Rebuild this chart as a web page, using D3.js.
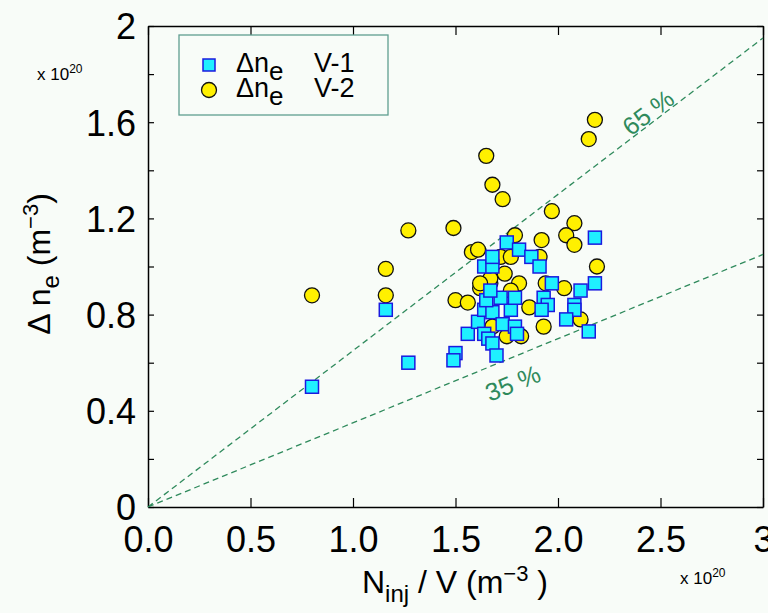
<!DOCTYPE html>
<html>
<head>
<meta charset="utf-8">
<script src="https://cdn.jsdelivr.net/npm/d3@7"></script>
<style>
  body { margin: 0; background: #f8fcf8; }
  text { font-family: "Liberation Sans", Arial, Helvetica, sans-serif; }
</style>
</head>
<body>
<script>
// V-1 points (squares): injected density / volume vs density rise, units of 1e20 m^-3
var v1x = [0.80, 1.16, 1.27, 1.50, 1.49, 1.56, 1.61, 1.64, 1.68, 1.64, 1.66, 1.68, 1.70,
           1.73, 1.79, 1.80, 1.77, 1.72, 1.79, 1.65, 1.67, 1.64, 1.68, 1.68, 1.75, 1.81,
           1.87, 1.91, 1.97, 1.93, 1.95, 1.92, 2.08, 2.08, 2.04, 2.11, 2.18, 2.18, 2.15];
var v1y = [0.50, 0.82, 0.60, 0.64, 0.61, 0.72, 0.77, 0.82, 0.81, 0.72, 0.70, 0.68, 0.63,
           0.76, 0.75, 0.72, 0.82, 0.87, 0.87, 0.86, 0.90, 1.00, 1.00, 1.04, 1.10, 1.07,
           1.04, 1.00, 0.93, 0.87, 0.84, 0.82, 0.84, 0.82, 0.78, 0.90, 0.93, 1.12, 0.73];

// V-2 points (circles)
var v2x = [0.80, 1.16, 1.16, 1.27, 1.49, 1.50, 1.56, 1.58, 1.61, 1.65, 1.68, 1.73, 1.79,
           1.92, 1.97, 2.08, 2.04, 2.08, 2.15, 2.18, 2.19, 2.11, 2.03, 1.94, 1.91, 1.72,
           1.77, 1.74, 1.81, 1.62, 1.67, 1.86, 1.93, 1.75, 1.82, 1.68, 1.67, 1.77, 1.62];
var v2y = [0.88, 0.99, 0.88, 1.15, 1.16, 0.86, 0.85, 1.06, 1.07, 1.46, 1.34, 1.28, 1.13,
           1.11, 1.23, 1.18, 1.13, 1.09, 1.53, 1.61, 1.00, 0.78, 0.91, 0.93, 1.04, 1.04,
           1.04, 0.97, 0.93, 0.91, 0.93, 0.83, 0.75, 0.71, 0.71, 0.75, 0.95, 0.90, 0.93];

// reference efficiency lines
var fractions = [0.65, 0.35];
var fracLabels = ["65 %", "35 %"];

var xTicks = [0, 0.5, 1, 1.5, 2, 2.5, 3];
var xTickLabels = ["0.0", "0.5", "1.0", "1.5", "2.0", "2.5", "3"];
var yTicks = [0, 0.2, 0.4, 0.6, 0.8, 1.0, 1.2, 1.4, 1.6, 1.8, 2.0];
var yTickLabels = ["0", "", "0.4", "", "0.8", "", "1.2", "", "1.6", "", "2"];

var width = 768,
    height = 613,
    margin = {top: 26, right: 5, bottom: 106, left: 148};

var lineColor = "#2f8a5c";

var svg = d3.select("body").append("svg")
    .attr("width", width)
    .attr("height", height);

svg.append("rect")
    .attr("width", width)
    .attr("height", height)
    .attr("fill", "#f8fcf8");

var x = d3.scaleLinear().domain([0, 3]).range([margin.left, width - margin.right]);
var y = d3.scaleLinear().domain([0, 2]).range([height - margin.bottom, margin.top]);

// axes, ticks pointing inward
svg.append("g")
    .attr("transform", "translate(0," + y(0) + ")")
    .call(d3.axisBottom(x).tickValues(xTicks).tickSizeInner(-9).tickSizeOuter(0)
      .tickPadding(12).tickFormat(function(d, i) { return xTickLabels[i]; }))
    .call(function(g) {
      g.selectAll("text").attr("font-size", 36).attr("fill", "#000").attr("dy", "0.92em");
    });

svg.append("g")
    .attr("transform", "translate(0," + y(2) + ")")
    .call(d3.axisTop(x).tickValues(xTicks).tickSizeInner(-9).tickSizeOuter(0).tickFormat(""));

svg.append("g")
    .attr("transform", "translate(" + x(0) + ",0)")
    .call(d3.axisLeft(y).tickValues(yTicks).tickSizeInner(-6).tickSizeOuter(0)
      .tickPadding(12).tickFormat(function(d, i) { return yTickLabels[i]; }))
    .call(function(g) {
      g.selectAll("text").attr("font-size", 36).attr("fill", "#000").attr("dy", "0.36em");
    });

svg.append("g")
    .attr("transform", "translate(" + x(3) + ",0)")
    .call(d3.axisRight(y).tickValues(yTicks).tickSizeInner(-6).tickSizeOuter(0).tickFormat(""));

svg.selectAll(".domain").attr("stroke", "#000").attr("stroke-width", 1.5);
svg.selectAll(".tick line").attr("stroke", "#000").attr("stroke-width", 1.2);

// dashed reference lines
svg.selectAll(".ref")
    .data(fractions)
    .enter().append("line")
      .attr("class", "ref")
      .attr("x1", x(0)).attr("y1", y(0))
      .attr("x2", x(3)).attr("y2", function(d) { return y(3 * d); })
      .attr("stroke", lineColor)
      .attr("stroke-width", 1.3)
      .attr("stroke-dasharray", "6,4");

// labels on the lines
var labelAt = [{xv: 2.44, off: -13}, {xv: 1.78, off: 26}];
svg.selectAll(".reflabel")
    .data(fractions)
    .enter().append("text")
      .attr("class", "reflabel")
      .attr("font-size", 25)
      .attr("fill", lineColor)
      .attr("text-anchor", "middle")
      .attr("transform", function(d, i) {
        var px = x(labelAt[i].xv), py = y(labelAt[i].xv * d);
        var ang = Math.atan2(y(3 * d) - y(0), x(3) - x(0)) * 180 / Math.PI;
        return "translate(" + px + "," + (py + labelAt[i].off) + ") rotate(" + ang + ")";
      })
      .attr("dy", "0.35em")
      .text(function(d, i) { return fracLabels[i]; });

// V-2 circles drawn first, squares on top
var v2 = v2x.map(function(d, i) { return {x: d, y: v2y[i]}; });
var v1 = v1x.map(function(d, i) { return {x: d, y: v1y[i]}; });

svg.selectAll(".v2")
    .data(v2)
    .enter().append("circle")
      .attr("class", "v2")
      .attr("cx", function(d) { return x(d.x); })
      .attr("cy", function(d) { return y(d.y); })
      .attr("r", 7.5)
      .attr("fill", "#fff000")
      .attr("stroke", "#111")
      .attr("stroke-width", 1.3);

var sq = 13;
svg.selectAll(".v1")
    .data(v1)
    .enter().append("rect")
      .attr("class", "v1")
      .attr("x", function(d) { return x(d.x) - sq / 2; })
      .attr("y", function(d) { return y(d.y) - sq / 2; })
      .attr("width", sq)
      .attr("height", sq)
      .attr("fill", "#1ff0ff")
      .attr("stroke", "#1a1adf")
      .attr("stroke-width", 1.5);

// legend
var lg = svg.append("g");
lg.append("rect")
    .attr("x", 179).attr("y", 35).attr("width", 209).attr("height", 80)
    .attr("fill", "#f8fcf8").attr("stroke", "#5f9e90").attr("stroke-width", 1.3);
lg.append("rect")
    .attr("x", 203).attr("y", 59).attr("width", 12).attr("height", 12)
    .attr("fill", "#1ff0ff").attr("stroke", "#1a1adf").attr("stroke-width", 1.5);
lg.append("circle")
    .attr("cx", 209).attr("cy", 90).attr("r", 7.5)
    .attr("fill", "#fff000").attr("stroke", "#111").attr("stroke-width", 1.3);

var legendNames = ["V-1", "V-2"];
legendNames.forEach(function(name, i) {
  var t = lg.append("text")
      .attr("x", 236).attr("y", 72 + i * 25)
      .attr("font-size", 27);
  t.append("tspan").text("\u0394n");
  t.append("tspan").attr("dy", 8).attr("font-size", 26).text("e");
  t.append("tspan").attr("x", 314).attr("dy", -8).text(name);
});

// exponent notes
function scaleNote(xp, yp) {
  var t = svg.append("text").attr("x", xp).attr("y", yp).attr("font-size", 17);
  t.append("tspan").text("x 10");
  t.append("tspan").attr("dy", -7).attr("font-size", 12).text("20");
}
scaleNote(37, 80);
scaleNote(680, 584);

// x axis title
var xt = svg.append("text")
    .attr("x", 455).attr("y", 593)
    .attr("text-anchor", "middle")
    .attr("font-size", 32);
xt.append("tspan").text("N");
xt.append("tspan").attr("dy", 9).attr("font-size", 24).text("inj");
xt.append("tspan").attr("dy", -9).text(" / V (m");
xt.append("tspan").attr("dy", -12).attr("font-size", 22).text("\u22123");
xt.append("tspan").attr("dy", 12).text(" )");

// y axis title
var yt = svg.append("text")
    .attr("transform", "translate(50,264) rotate(-90)")
    .attr("text-anchor", "middle")
    .attr("font-size", 32);
yt.append("tspan").text("\u0394 n");
yt.append("tspan").attr("dy", 9).attr("font-size", 24).text("e");
yt.append("tspan").attr("dy", -9).text("  (m");
yt.append("tspan").attr("dy", -12).attr("font-size", 22).text("\u22123");
yt.append("tspan").attr("dy", 12).text(")");
</script>
</body>
</html>
